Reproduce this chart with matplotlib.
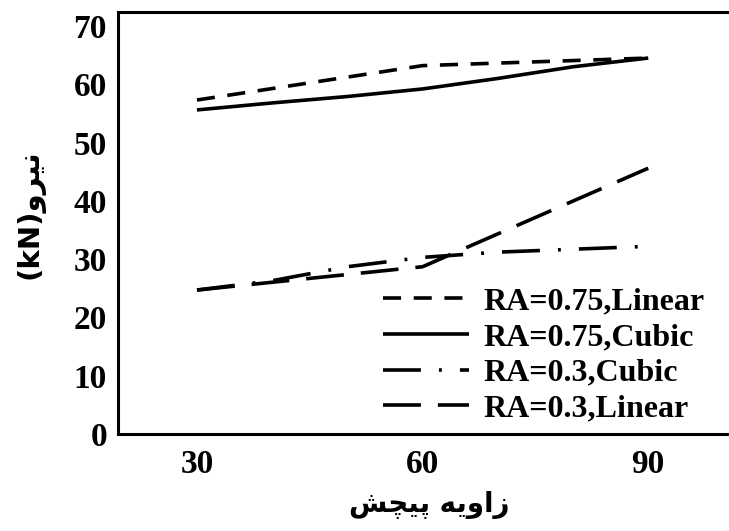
import matplotlib
matplotlib.use("Agg")
import matplotlib.pyplot as plt

# ------------------------------------------------------------
# Data
# ------------------------------------------------------------

angle_lin = [30, 60, 90]
angle_cub = [30, 40, 50, 60, 70, 80, 90]

ra75_linear = [57.3, 63.2, 64.5]
ra75_cubic = [55.6, 56.8, 57.9, 59.2, 61.0, 63.0, 64.5]
ra30_cubic = [24.7, 26.3, 28.7, 30.3, 31.2, 31.7, 32.2]
ra30_linear = [24.7, 28.7, 45.6]

labels = ["RA=0.75,Linear", "RA=0.75,Cubic", "RA=0.3,Cubic", "RA=0.3,Linear"]

x_ticks = [30, 60, 90]
y_ticks = [0, 10, 20, 30, 40, 50, 60, 70]

# Persian text in visual order with presentation forms (no shaping engine)
x_label = "\uFEB6\uFB7D\uFBFF\uFB58 \uFEEA\uFBFE\uFEED\uFE8D\uFEAF"   # زاویه پیچش
y_label = "(kN)\uFEED\uFEAE\uFBFF\uFEE7"                            # (kN)نیرو

# ------------------------------------------------------------
# Plot
# ------------------------------------------------------------

plt.rcParams["font.family"] = ["Liberation Serif", "DejaVu Sans"]
plt.rcParams["font.weight"] = "bold"

fig = plt.figure(figsize=(7.29, 5.31), dpi=100)
ax = fig.add_axes([118 / 729, 97 / 531, 622 / 729, 422 / 531])

lw = 2.6
ax.plot(angle_lin, ra75_linear, color="black", lw=lw,
        dashes=(5, 3.5), label=labels[0])
ax.plot(angle_cub, ra75_cubic, color="black", lw=lw,
        solid_capstyle="butt", label=labels[1])
ax.plot(angle_cub, ra30_cubic, color="black", lw=lw,
        dashes=(10.5, 5, 0.8, 5), label=labels[2])
ax.plot(angle_lin, ra30_linear, color="black", lw=lw,
        dashes=(10.5, 4.7), label=labels[3])

ax.set_xlim(19.5, 102.2)
ax.set_ylim(0, 72.4)

ax.set_xticks(x_ticks)
ax.set_yticks(y_ticks)
ax.tick_params(length=0, labelsize=24)
ax.tick_params(axis="y", pad=8)
ax.tick_params(axis="x", pad=11)

for s in ax.spines.values():
    s.set_linewidth(2.2)

ax.set_xlabel(x_label, fontsize=20, family="DejaVu Sans",
              fontweight="bold", labelpad=8)
ax.set_ylabel(y_label, fontsize=21, family="DejaVu Sans",
              fontweight="bold")
ax.yaxis.set_label_coords(-0.118, 0.52)

ax.legend(loc="lower left", bbox_to_anchor=(0.426, 0.025),
          frameon=False, fontsize=23, handlelength=2.7,
          handletextpad=0.45, labelspacing=0.2,
          borderpad=0, borderaxespad=0)

fig.savefig("out.png", dpi=100)
